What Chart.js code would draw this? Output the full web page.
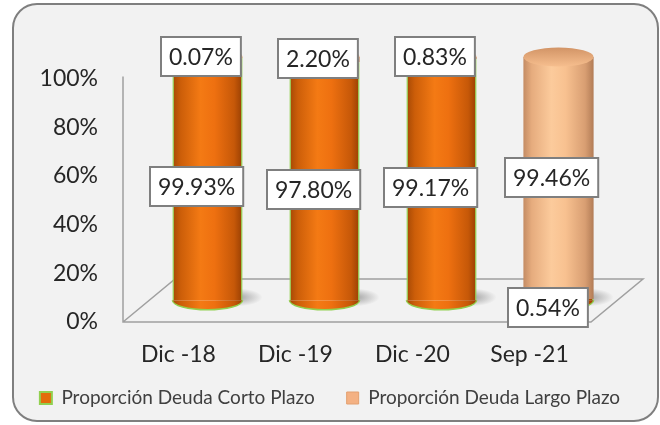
<!DOCTYPE html>
<html>
<head>
<meta charset="utf-8">
<script src="https://cdn.jsdelivr.net/npm/chart.js@4.4.0/dist/chart.umd.min.js"></script>
<style>
  body { margin: 0; background: #fff; }
  canvas { display: block; }
</style>
</head>
<body>
<canvas id="myChart" width="660" height="425"></canvas>
<script>
// datos
var periodos = ['Dic -18', 'Dic -19', 'Dic -20', 'Sep -21'];
var cortoPlazo = [99.93, 97.80, 99.17, 0.54];
var largoPlazo = [0.07, 2.20, 0.83, 99.46];
var ticksEje = [0, 20, 40, 60, 80, 100];

// profundidad del "3D" en pixeles
var PROF_X = 52, PROF_Y = 43;
// desplazamiento de las etiquetas por serie (cara frontal del cilindro)
var desplEtiqueta = [[-11, 8], [-7, -1]];

var tonosNaranja = [[0, '#A44805'], [0.12, '#CC5E09'], [0.4, '#F47A14'], [0.6, '#EE7010'], [0.88, '#C65808'], [1, '#983F03']];
var tonosDurazno = [[0, '#C48C64'], [0.12, '#E6AC7E'], [0.4, '#FCCB9C'], [0.6, '#F8C190'], [0.88, '#D89E72'], [1, '#B27C56']];

function degradado(ctx2d, x0, x1, tonos) {
    var g = ctx2d.createLinearGradient(x0, 0, x1, 0);
    tonos.forEach(function (t) { g.addColorStop(t[0], t[1]); });
    return g;
}

function rellenoCilindro(tonos) {
    return function (context) {
        var chart = context.chart;
        if (context.type !== 'data' || !chart.chartArea) return tonos[3][1];
        var x = chart.scales.x;
        var cx = x.getPixelForValue(context.dataIndex);
        var half = x.width / periodos.length * 0.6 / 2;
        return degradado(chart.ctx, cx - half, cx + half, tonos);
    };
}

var fondo = {
    id: 'fondo',
    beforeDraw: function (chart) {
        var c = chart.ctx;
        c.save();
        c.fillStyle = '#ffffff';
        c.fillRect(0, 0, chart.width, chart.height);
        c.beginPath();
        c.roundRect(13, 4, 645, 417, 24);
        c.fillStyle = '#F2F2F2';
        c.fill();
        c.lineWidth = 2;
        c.strokeStyle = '#7F7F7F';
        c.stroke();
        c.restore();
    },
    // las etiquetas del eje x se recortan al alto del eje; se deja mas espacio abajo
    afterLayout: function (chart) {
        chart.scales.x.bottom += 25;
    }
};

var cilindros = {
    id: 'cilindros',
    beforeDatasetsDraw: function (chart) {
        var c = chart.ctx, a = chart.chartArea, y = chart.scales.y;
        var x0 = a.left - PROF_X / 2, x1 = a.right - PROF_X / 2;
        var y0 = y.getPixelForValue(0), yTop = y.getPixelForValue(100);
        c.save();
        c.strokeStyle = '#A0A0A0';
        c.lineWidth = 1.5;
        c.beginPath();
        c.moveTo(x0, yTop - 2); c.lineTo(x0, y0);
        c.lineTo(x1, y0); c.lineTo(x1 + PROF_X, y0 - PROF_Y);
        c.lineTo(x0 + PROF_X, y0 - PROF_Y); c.lineTo(x0, y0);
        c.stroke();
        // sombras en el piso
        chart.getDatasetMeta(0).data.forEach(function (el) {
            var sx = el.x + el.width / 2 - 6, sy = el.base - 3, rx = 26, ry = 9;
            c.save();
            c.translate(sx, sy);
            c.scale(1, ry / rx);
            var g = c.createRadialGradient(0, 0, 0, 0, 0, rx);
            g.addColorStop(0, 'rgba(90,90,90,0.55)');
            g.addColorStop(1, 'rgba(90,90,90,0)');
            c.fillStyle = g;
            c.beginPath(); c.arc(0, 0, rx, 0, Math.PI * 2); c.fill();
            c.restore();
        });
        c.restore();
    },
    afterDatasetsDraw: function (chart) {
        var c = chart.ctx;
        var abajo = chart.getDatasetMeta(0).data;
        var arriba = chart.getDatasetMeta(1).data;
        var ry = 9.5;
        c.save();
        abajo.forEach(function (el, j) {
            var half = el.width / 2;
            // base del cilindro
            c.beginPath();
            c.ellipse(el.x, el.base, half, ry, 0, 0, Math.PI);
            c.fillStyle = degradado(c, el.x - half, el.x + half, tonosNaranja);
            c.fill();
            c.strokeStyle = '#92D050';
            c.lineWidth = 1.5;
            c.stroke();
            // tapa superior
            var top = arriba[j];
            var g = c.createLinearGradient(0, top.y - ry, 0, top.y + ry);
            g.addColorStop(0, '#D29466'); g.addColorStop(1, '#F6BE8E');
            c.beginPath();
            c.ellipse(top.x, top.y, half, ry, 0, 0, Math.PI * 2);
            c.fillStyle = g;
            c.fill();
        });
        c.restore();
    }
};

var etiquetas = {
    id: 'etiquetas',
    afterDatasetsDraw: function (chart) {
        var c = chart.ctx;
        c.save();
        c.font = '23px Lato';
        c.textAlign = 'center';
        c.textBaseline = 'middle';
        chart.data.datasets.forEach(function (ds, i) {
            chart.getDatasetMeta(i).data.forEach(function (el, j) {
                var p = el.getCenterPoint();
                var txt = ds.data[j].toFixed(2) + '%';
                var w = c.measureText(txt).width + 16, h = 39;
                var bx = Math.round(p.x + desplEtiqueta[i][0] - w / 2);
                var by = Math.round(p.y + desplEtiqueta[i][1] - h / 2);
                c.fillStyle = '#ffffff';
                c.fillRect(bx, by, w, h);
                c.strokeStyle = '#7F7F7F';
                c.lineWidth = 2;
                c.strokeRect(bx, by, w, h);
                c.fillStyle = '#262626';
                c.fillText(txt, bx + w / 2, by + h / 2 + 1);
            });
        });
        c.restore();
    }
};

Chart.defaults.font.family = 'Lato';

var ctx = document.getElementById('myChart').getContext('2d');
var chart = new Chart(ctx, {
    type: 'bar',
    data: {
        labels: periodos,
        datasets: [{
            label: 'Proporción Deuda Corto Plazo',
            data: cortoPlazo,
            yAxisID: 'yBar',
            backgroundColor: rellenoCilindro(tonosNaranja),
            borderColor: '#92D050',
            borderWidth: {left: 1.5, right: 1.5, top: 0, bottom: 0},
            borderSkipped: false,
            barPercentage: 0.6,
            categoryPercentage: 1
        }, {
            label: 'Proporción Deuda Largo Plazo',
            data: largoPlazo,
            yAxisID: 'yBar',
            backgroundColor: rellenoCilindro(tonosDurazno),
            borderWidth: 0,
            barPercentage: 0.6,
            categoryPercentage: 1
        }]
    },
    options: {
        responsive: false,
        animation: false,
        devicePixelRatio: 1,
        layout: {padding: {top: 56.5, left: 0, right: 0, bottom: 7.5}},
        scales: {
            x: {
                stacked: true,
                grid: {display: false, drawTicks: false},
                border: {display: false},
                ticks: {font: {size: 23}, color: '#262626', padding: 19, labelOffset: -29},
                afterFit: function (scale) { scale.height = 34.5; }
            },
            y: {
                position: 'left',
                min: 0,
                max: 109,
                grid: {display: false, drawTicks: false},
                border: {display: false},
                ticks: {
                    font: {size: 23}, color: '#262626', padding: 51,
                    callback: function (v) { return v + '%'; }
                },
                afterBuildTicks: function (scale) {
                    scale.ticks = ticksEje.map(function (v) { return {value: v}; });
                },
                afterFit: function (scale) {
                    scale.width = 149;
                    scale.paddingTop = 0;
                    scale.paddingBottom = 0;
                }
            },
            yDer: {
                position: 'right',
                grid: {display: false, drawTicks: false},
                border: {display: false},
                ticks: {display: false},
                afterFit: function (scale) {
                    scale.width = 43;
                    scale.paddingTop = 0;
                    scale.paddingBottom = 0;
                }
            },
            yBar: {
                position: 'left',
                display: false,
                stacked: true,
                min: -8.9,
                max: 100.2
            }
        },
        plugins: {
            tooltip: {enabled: false},
            legend: {
                position: 'bottom',
                labels: {
                    boxWidth: 12,
                    boxHeight: 12,
                    padding: 32,
                    color: '#404040',
                    font: {size: 19},
                    generateLabels: function (chart) {
                        var items = Chart.defaults.plugins.legend.labels.generateLabels(chart);
                        items[0].fillStyle = '#E46C0A';
                        items[0].strokeStyle = '#92D050';
                        items[0].lineWidth = 2;
                        items[1].fillStyle = '#F4B183';
                        items[1].strokeStyle = '#E3A070';
                        items[1].lineWidth = 1;
                        return items;
                    }
                }
            }
        }
    },
    plugins: [fondo, cilindros, etiquetas]
});
</script>
</body>
</html>
